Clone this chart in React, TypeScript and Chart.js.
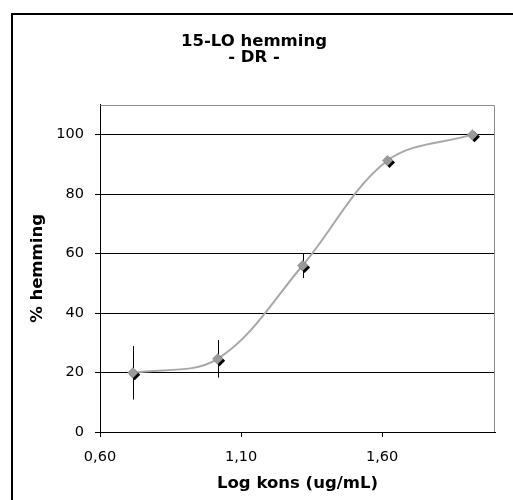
import React, { useEffect, useRef } from "react";
import { Chart, registerables } from "chart.js";

Chart.register(...registerables);

const xValues = [0.716, 1.017, 1.318, 1.619, 1.92];
const yValues = [19.9, 24.6, 56, 91.3, 100];
const yErrors = [9, 6.3, 4.2, 0, 0];
const xTickValues = [0.6, 1.1, 1.6];
const xTickLabels = ["0,60", "1,10", "1,60"];
const yTickValues = [0, 20, 40, 60, 80, 100];
const yTickLabels = ["0", "20", "40", "60", "80", "100"];
const titleLines = ["15-LO hemming", "- DR -"];
const xTitle = "Log kons (ug/mL)";
const yTitle = "% hemming";

const W = 508;
const H = 500;

export default function App() {
  const ref = useRef<HTMLCanvasElement | null>(null);

  useEffect(() => {
    if (!ref.current) return;
    const pts = xValues.map((x, i) => ({ x, y: yValues[i] }));

    const frame = {
      id: "frame",
      beforeDatasetsDraw(chart: any) {
        const { ctx, chartArea: a } = chart;
        ctx.save();
        ctx.strokeStyle = "#8c8c8c";
        ctx.lineWidth = 1;
        ctx.beginPath();
        ctx.moveTo(Math.round(a.left) + 0.5, Math.round(a.top) + 0.5);
        ctx.lineTo(Math.round(a.right) - 0.5, Math.round(a.top) + 0.5);
        ctx.lineTo(Math.round(a.right) - 0.5, Math.round(a.bottom));
        ctx.stroke();
        // error bars
        const xs = chart.scales.x;
        const ys = chart.scales.y;
        ctx.strokeStyle = "#000";
        ctx.lineWidth = 1;
        yErrors.forEach((e, i) => {
          if (!e) return;
          const px = Math.round(xs.getPixelForValue(xValues[i])) + 0.5;
          ctx.beginPath();
          ctx.moveTo(px, ys.getPixelForValue(yValues[i] + e));
          ctx.lineTo(px, ys.getPixelForValue(yValues[i] - e));
          ctx.stroke();
        });
        ctx.restore();
      },
    };

    const shadow = {
      id: "shadow",
      beforeDatasetDraw(chart: any, args: any) {
        if (args.index !== 0) return;
        const ctx = chart.ctx;
        ctx.save();
        ctx.shadowColor = "#000";
        ctx.shadowOffsetX = 2;
        ctx.shadowOffsetY = 2;
        ctx.shadowBlur = 0;
      },
      afterDatasetDraw(chart: any, args: any) {
        if (args.index !== 0) return;
        chart.ctx.restore();
      },
    };

    const chart = new Chart(ref.current, {
      type: "scatter",
      data: {
        datasets: [
          {
            data: pts,
            showLine: false,
            pointStyle: "rectRot",
            pointRadius: 5.5,
            backgroundColor: "#9a9a9a",
            borderColor: "#9a9a9a",
            borderWidth: 0,
          },
          {
            data: pts,
            showLine: true,
            borderColor: "#a8a8a8",
            borderWidth: 2,
            tension: 0.35,
            pointRadius: 0,
            fill: false,
          },
        ],
      },
      options: {
        responsive: false,
        animation: false,
        layout: { padding: { left: 0, right: W - 482, top: 0, bottom: 0 } },
        plugins: {
          legend: { display: false },
          tooltip: { enabled: false },
          title: {
            display: true,
            text: titleLines,
            color: "#000",
            font: { family: "DejaVu Sans", size: 16.5, weight: "bold", lineHeight: 1.01 },
            padding: { top: 18, bottom: 38.6 },
          },
        },
        scales: {
          x: {
            type: "linear",
            min: 0.6,
            max: 2.0,
            afterBuildTicks: (s: any) => {
              s.ticks = xTickValues.map((v) => ({ value: v }));
            },
            afterFit: (s: any) => {
              s.height = H - 417;
            },
            ticks: {
              callback: (_v: any, i: number) => xTickLabels[i],
              color: "#000",
              font: { family: "DejaVu Sans", size: 14.5 },
              padding: 12,
              maxRotation: 0,
            },
            grid: {
              drawOnChartArea: false,
              drawTicks: true,
              tickLength: 5,
              color: "#000",
            },
            border: { display: true, color: "#000", width: 1 },
            title: {
              display: true,
              text: xTitle,
              color: "#000",
              font: { family: "DejaVu Sans", size: 16.5, weight: "bold" },
              padding: { top: 0, bottom: 21.5 },
            },
          },
          y: {
            type: "linear",
            min: 0,
            max: 110,
            afterBuildTicks: (s: any) => {
              s.ticks = yTickValues.map((v) => ({ value: v }));
            },
            afterFit: (s: any) => {
              s.width = 87;
            },
            ticks: {
              callback: (_v: any, i: number) => yTickLabels[i],
              color: "#000",
              font: { family: "DejaVu Sans", size: 14.5 },
              padding: 11,
            },
            grid: {
              drawOnChartArea: true,
              drawTicks: true,
              tickLength: 5,
              color: "#000",
              lineWidth: 1,
            },
            border: { display: true, color: "#000", width: 1 },
            title: {
              display: true,
              text: yTitle,
              color: "#000",
              font: { family: "DejaVu Sans", size: 16.5, weight: "bold" },
              padding: { top: 15.3, bottom: 0 },
            },
          },
        },
      },
      plugins: [frame, shadow],
    });
    return () => chart.destroy();
  }, []);

  return (
    <div
      style={{
        position: "fixed",
        left: 0,
        top: 0,
        width: 513,
        height: 500,
        overflow: "hidden",
        background: "#fff",
      }}
    >
      <div
        style={{
          position: "absolute",
          left: 11,
          top: 13,
          width: W,
          height: H,
          border: "2px solid #000",
        }}
      >
        <canvas ref={ref} width={W} height={H} style={{ display: "block" }} />
      </div>
    </div>
  );
}
